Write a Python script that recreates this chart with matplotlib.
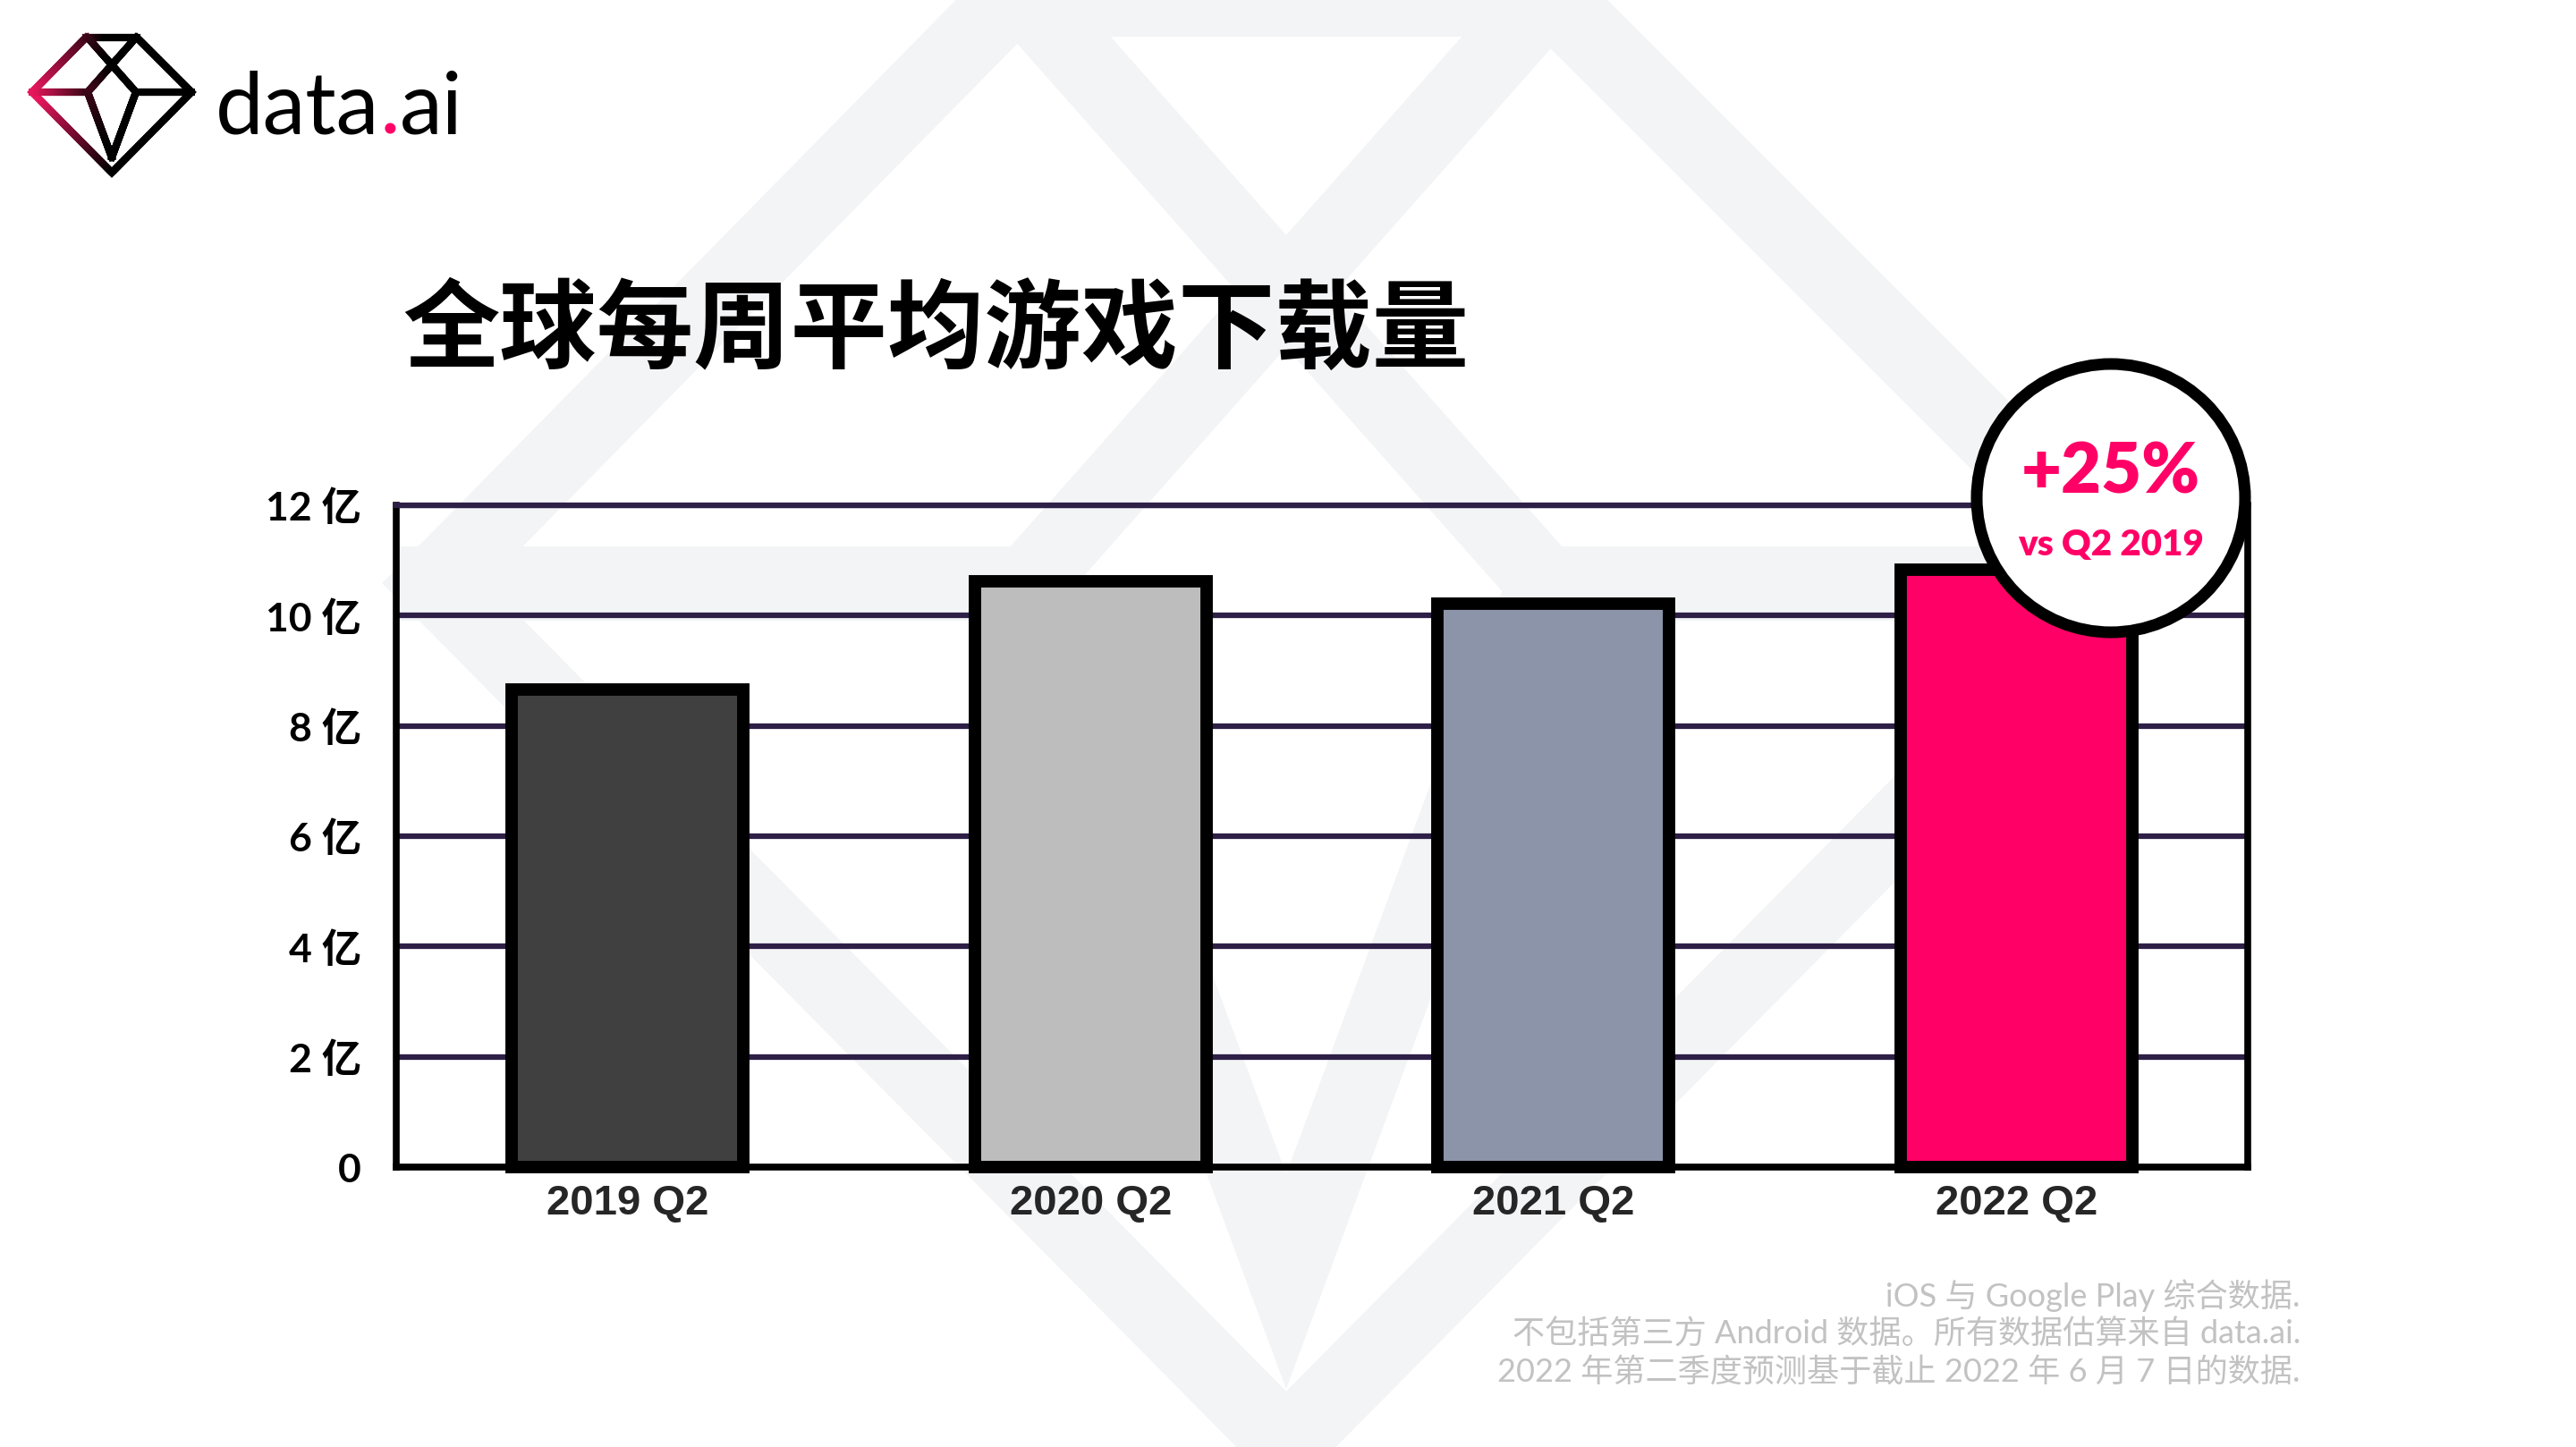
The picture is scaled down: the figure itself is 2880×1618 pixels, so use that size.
import numpy as np
import matplotlib
matplotlib.use('Agg')
import matplotlib.pyplot as plt
from matplotlib.collections import LineCollection
from matplotlib.lines import Line2D
from matplotlib.patches import Ellipse

# data (weekly game downloads, in 亿)
quarters = ['2019 Q2', '2020 Q2', '2021 Q2', '2022 Q2']
downloads = [8.66, 10.62, 10.22, 10.83]
bar_colors = ['#404040', '#bdbdbd', '#8b94a8', '#ff0066']
yticks = [0, 2, 4, 6, 8, 10, 12]
ytick_labels = ['0', '2 亿', '4 亿', '6 亿', '8 亿', '10 亿', '12 亿']

title = '全球每周平均游戏下载量'
badge_main = '+25%'
badge_sub = 'vs Q2 2019'
notes = ['iOS 与 Google Play 综合数据.',
         '不包括第三方 Android 数据。所有数据估算来自 data.ai.',
         '2022 年第二季度预测基于截止 2022 年 6 月 7 日的数据.']

PINK = '#ff0066'
W, H = 2880, 1618

fig = plt.figure(figsize=(W / 100, H / 100), dpi=100)
fig.patch.set_facecolor('white')


def fx(x):
    return x / W


def fy(y):
    return 1 - y / H


# gem outline, unit coords (x right, y down), centre of the middle line at 0,0
gem_lines = [
    [(-29, -61), (28, -61), (89, 0), (0, 90), (-89, 0), (-29, -61)],
    [(-89, 0), (-27, 0)],
    [(27, 0), (89, 0)],
    [(-27, -61), (27, 0)],
    [(27, -61), (-27, 0)],
    [(-27, 0), (0, 73), (27, 0)],
]


def gem_paths(cx, cy, s):
    out = []
    for line in gem_lines:
        xs = [fx(cx + p[0] * s) for p in line]
        ys = [fy(cy + p[1] * s) for p in line]
        out.append((xs, ys))
    return out


# big light watermark behind everything
for xs, ys in gem_paths(1438, 652, 10.7):
    fig.add_artist(Line2D(xs, ys, transform=fig.transFigure, color='#f3f4f6',
                          lw=60, solid_joinstyle='miter', solid_capstyle='projecting',
                          zorder=-5))

# small logo with pink -> black gradient
pink_rgb = np.array(matplotlib.colors.to_rgb('#e8175d'))
segs, cols = [], []
for xs, ys in gem_paths(125, 103, 1.0):
    for i in range(len(xs) - 1):
        tx = np.linspace(xs[i], xs[i + 1], 40)
        ty = np.linspace(ys[i], ys[i + 1], 40)
        for j in range(39):
            segs.append([(tx[j], ty[j]), (tx[j + 1], ty[j + 1])])
            xm = (tx[j] + tx[j + 1]) / 2 * W
            t = np.clip((xm - 40) / 80, 0, 1)
            cols.append(tuple(pink_rgb * (1 - t)))
fig.add_artist(LineCollection(segs, colors=cols, linewidths=5.8, capstyle='projecting',
                              transform=fig.transFigure, zorder=2))

t1 = fig.text(fx(241), fy(166), 'data', fontsize=69, family='Lato', color='black', va='bottom')
ax_logo = fig.add_axes([0, 0, 0.01, 0.01])
ax_logo.axis('off')
t2 = ax_logo.annotate('.', xy=(1, 0), xycoords=t1, va='bottom', ha='left',
                      fontsize=69, family='Lato', color=PINK, annotation_clip=False)
ax_logo.annotate('ai', xy=(1, 0), xycoords=t2, va='bottom', ha='left',
                 fontsize=69, family='Lato', color='black', annotation_clip=False)

# title
fig.text(fx(450), fy(372), title, fontsize=78, fontweight='heavy',
         family='Noto Sans CJK SC', va='center', ha='left')

# chart
ax = fig.add_axes([fx(443), fy(1305), (2513 - 443) / W, (1305 - 565) / H])
ax.set_facecolor('none')
bars = ax.bar(range(len(quarters)), downloads, width=0.5, color=bar_colors,
              edgecolor='black', linewidth=10, zorder=3, clip_on=False)
for b in bars:
    b.set_joinstyle('miter')

ax.set_xlim(-0.5, 3.5)
ax.set_ylim(0, 12)
ax.set_yticks(yticks)
ax.set_yticklabels(ytick_labels, fontsize=32, fontweight='bold',
                   fontfamily=['Lato', 'Noto Sans CJK SC'])
ax.set_xticks(range(len(quarters)))
ax.set_xticklabels(quarters, fontsize=34, family='Liberation Sans', color='#262626',
                   fontweight='bold')
ax.tick_params(axis='y', length=0, pad=28)
ax.tick_params(axis='x', length=0, pad=14)
ax.yaxis.grid(True, color='#2e1f47', linewidth=4.5)
ax.set_axisbelow(True)
for side in ['left', 'bottom', 'right']:
    ax.spines[side].set_color('black')
    ax.spines[side].set_linewidth(5.5)
ax.spines['top'].set_color('#2e1f47')
ax.spines['top'].set_linewidth(4.5)

# badge
fig.add_artist(Ellipse((fx(2360), fy(557)), 2 * 150 / W, 2 * 150 / H,
                       transform=fig.transFigure, facecolor='white',
                       edgecolor='black', lw=9.4, zorder=5))
fig.text(fx(2360), fy(529), badge_main, fontsize=56, fontweight='heavy', family='Lato',
         color=PINK, ha='center', va='center', zorder=6)
fig.text(fx(2360), fy(609), badge_sub, fontsize=29, fontweight='heavy', family='Lato',
         color=PINK, ha='center', va='center', zorder=6)

# footnote
for note, yc in zip(notes, [1449, 1492, 1534]):
    fig.text(fx(2572), fy(yc), note, fontsize=26, color='#c2c2c2',
             family=['Lato', 'Noto Sans CJK SC'], ha='right', va='center')

fig.savefig('out.png', dpi=100)
